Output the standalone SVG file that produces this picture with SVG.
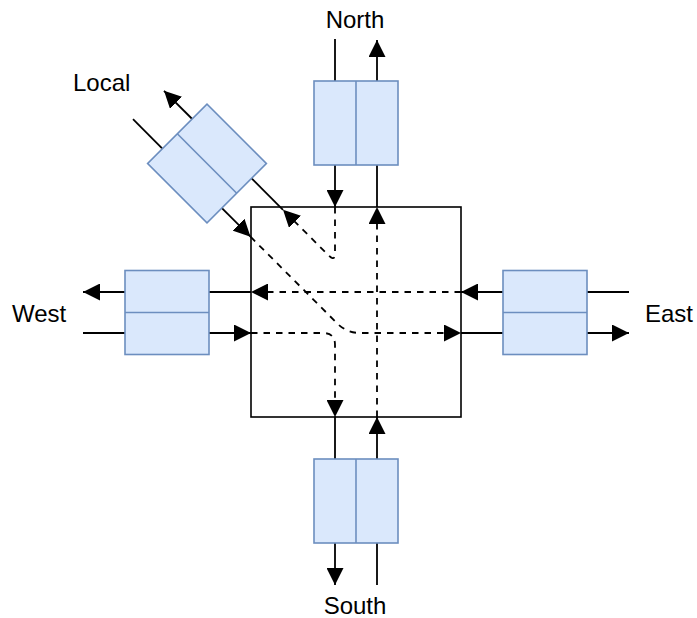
<svg xmlns="http://www.w3.org/2000/svg" width="697" height="618" viewBox="0 0 697 618">
  <style>
    .box{fill:#dae8fc;stroke:#6c8ebf;stroke-width:1.6}
    .div{fill:none;stroke:#6c8ebf;stroke-width:1.6}
    .core{fill:none;stroke:#000;stroke-width:1.6}
    .ln{fill:none;stroke:#000;stroke-width:1.8}
    .dl{fill:none;stroke:#000;stroke-width:1.8;stroke-dasharray:6.5 6}
    .arr{marker-end:url(#ah)}
    .lbl{font-family:"Liberation Sans",Arial,Helvetica,sans-serif;font-size:24px;fill:#000}
  </style>
  <defs>
    <marker id="ah" markerUnits="userSpaceOnUse" markerWidth="17" markerHeight="17" viewBox="0 0 16 16" refX="16" refY="8" orient="auto">
      <path d="M0,0 L16,8 L0,16 Z" fill="#000"/>
    </marker>
  </defs>

  <g id="connectors">
    <!-- North -->
    <path class="ln" d="M335,39 V81"/>
    <path class="ln arr" d="M335,165 V207"/>
    <path class="ln" d="M377,207 V165"/>
    <path class="ln arr" d="M377,81 V40"/>
    <!-- West -->
    <path class="ln" d="M251,292 H209"/>
    <path class="ln arr" d="M125,292 H83"/>
    <path class="ln" d="M83,333 H125"/>
    <path class="ln arr" d="M209,333 H251"/>
    <!-- East -->
    <path class="ln" d="M629,292 H587"/>
    <path class="ln arr" d="M503,292 H461"/>
    <path class="ln" d="M461,333 H503"/>
    <path class="ln arr" d="M587,333 H629"/>
    <!-- South -->
    <path class="ln" d="M335,417 V459"/>
    <path class="ln arr" d="M335,543 V585"/>
    <path class="ln" d="M377,585 V543"/>
    <path class="ln arr" d="M377,459 V417"/>
    <!-- Local -->
    <path class="ln" d="M133,119.2 L162.1,148.3"/>
    <path class="ln arr" d="M221.9,208.1 L250.5,236.7"/>
    <path class="ln" d="M283,209.8 L251.6,178.4"/>
    <path class="ln arr" d="M192.2,119 L164,90.8"/>
    <!-- internal dashed routes -->
    <path class="dl arr" d="M461,292 H251"/>
    <path class="dl arr" d="M251,333 H323 Q335,333 335,345 V417"/>
    <path class="dl arr" d="M377,417 V207"/>
    <path class="dl arr" d="M335,207 V253 Q335,261.8 328.8,255.6 L283,209.8"/>
    <path class="dl arr" d="M250.5,236.7 L337,323.2 Q346.8,333 360,333 H461"/>
  </g>

  <g id="router">
    <rect class="core" x="251" y="207" width="210" height="210"/>
  </g>

  <g id="north">
    <rect class="box" x="314" y="81" width="84" height="84"/>
    <line class="div" x1="356" y1="81" x2="356" y2="165"/>
    <text class="lbl" x="355" y="28" text-anchor="middle">North</text>
  </g>

  <g id="west">
    <rect class="box" x="125" y="270.5" width="84" height="84"/>
    <line class="div" x1="125" y1="312.5" x2="209" y2="312.5"/>
    <text class="lbl" x="12" y="322">West</text>
  </g>

  <g id="east">
    <rect class="box" x="503" y="270.5" width="84" height="84"/>
    <line class="div" x1="503" y1="312.5" x2="587" y2="312.5"/>
    <text class="lbl" x="645" y="322">East</text>
  </g>

  <g id="south">
    <rect class="box" x="314" y="459" width="84" height="84"/>
    <line class="div" x1="356" y1="459" x2="356" y2="543"/>
    <text class="lbl" x="355" y="614" text-anchor="middle">South</text>
  </g>

  <g id="local">
    <g transform="translate(207,163.5) rotate(-45)">
      <rect class="box" x="-42" y="-42" width="84" height="84"/>
      <line class="div" x1="0" y1="-42" x2="0" y2="42"/>
    </g>
    <text class="lbl" x="73" y="91">Local</text>
  </g>
</svg>
